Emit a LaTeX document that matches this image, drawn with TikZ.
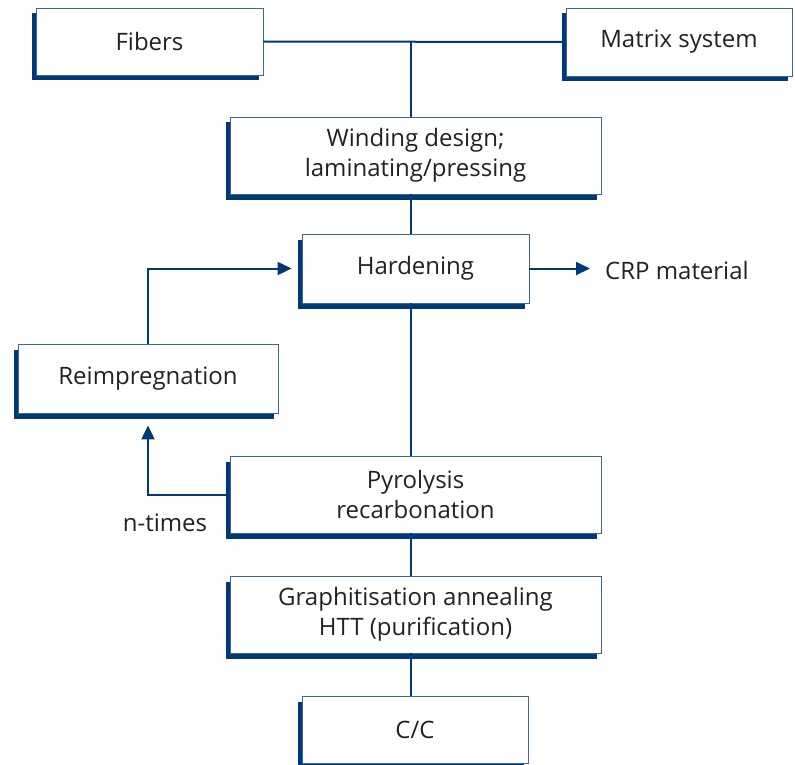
\documentclass[tikz,border=0pt]{standalone}
\usepackage{fontspec}
\setmainfont{Open Sans}
\usetikzlibrary{shadows,arrows.meta}
\definecolor{navy}{RGB}{0,57,120}
\definecolor{rim}{RGB}{62,102,152}
\definecolor{ink}{RGB}{34,34,34}
\tikzset{
  proc/.style={draw=rim, line width=0.8pt, fill=white, text=ink, align=center, inner sep=0pt,
    drop shadow={shadow xshift=-4.5pt, shadow yshift=-5.5pt, fill=navy, opacity=1}},
  link/.style={draw=navy, line width=2pt},
  tip/.style={-{Triangle[length=14pt,width=13pt]}}
}

\begin{document}
\begin{tikzpicture}[x=1pt,y=-1pt,font=\fontsize{24}{30}\selectfont]
\useasboundingbox (0,0) rectangle (795,765);
\node[proc, minimum width=227pt, minimum height=67pt] (f) at (149.5,41.5) {Fibers};
\node[proc, minimum width=226pt, minimum height=68pt] (m) at (679,42) {Matrix system};
\node[proc, minimum width=371pt, minimum height=77pt] (w) at (415.5,155.5) {Winding design;\\laminating/pressing};
\node[proc, minimum width=227pt, minimum height=69pt] (h) at (415.5,268.5) {Hardening};
\node[proc, minimum width=260pt, minimum height=69pt] (r) at (148,378.5) {Reimpregnation};
\node[proc, minimum width=371pt, minimum height=77pt] (p) at (415.5,494.5) {Pyrolysis\\recarbonation};
\node[proc, minimum width=371pt, minimum height=77pt] (g) at (415.5,614.5) {Graphitisation annealing\\HTT (purification)};
\node[proc, minimum width=226pt, minimum height=67pt] (c) at (415,729.5) {C/C};
\node[text=ink, anchor=west, inner sep=0pt] (crp) at (605,270) {CRP material};
\node[text=ink, inner sep=0pt] (n) at (165,523) {n-times};
\coordinate (j) at (411,42);
\draw[link] (f.east) -- (m.west);
\draw[link] (j) -- (j |- w.north);
\draw[link] (w.south -| j) -- (h.north -| j);
\draw[link] (h.south -| j) -- (p.north -| j);
\draw[link] (p.south -| j) -- (g.north -| j);
\draw[link] (g.south -| j) -- (c.north -| j);
\draw[link,tip,shorten >=15pt] (h.east) -- (h.east -| crp.west);
\draw[link,tip,shorten >=10pt] (r.north) |- (h.west);
\draw[link,tip,shorten >=12pt] (p.west) -| (r.south);
\end{tikzpicture}
\end{document}
